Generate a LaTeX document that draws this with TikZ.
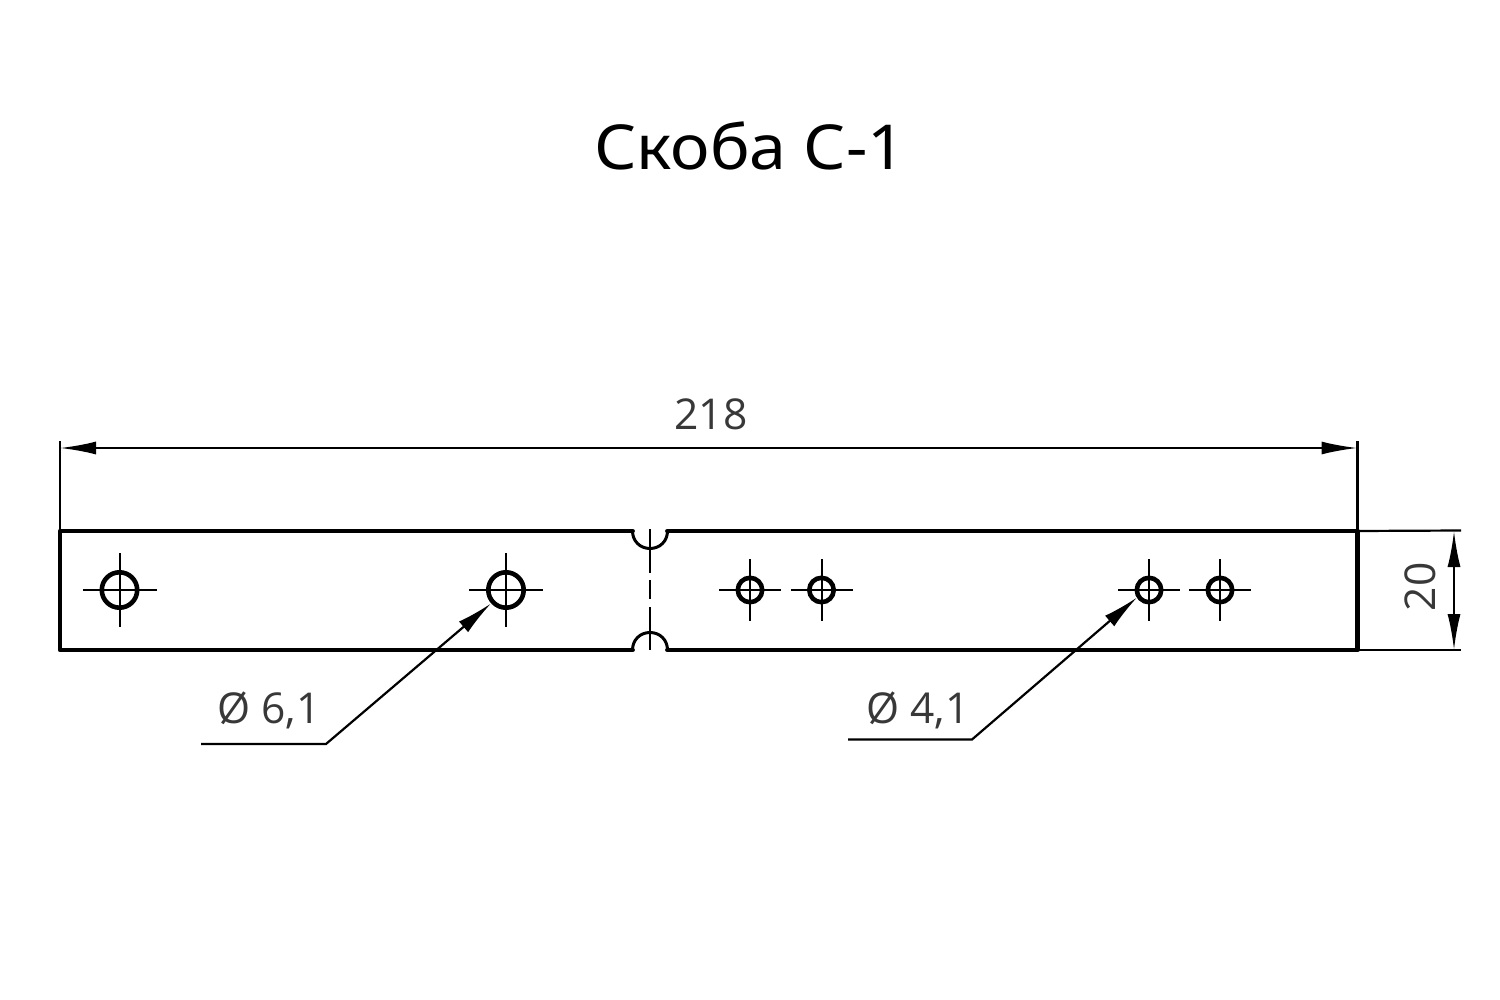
\documentclass[tikz,border=0pt]{standalone}
\usepackage{fontspec}
\setmainfont{Open Sans}
\newfontfamily\titlefont{Noto Sans}
\usetikzlibrary{arrows.meta,calc}
\tikzset{
  x=1pt,y=-1pt,
  contour/.style={line width=4.8pt,black,line cap=round,line join=round},
  notchline/.style={line width=3pt,black,line cap=round},
  thinline/.style={line width=2.2pt,black},
  holeline/.style={line width=4.6pt,black},
  centerline/.style={line width=2pt,black},
  dimarrow/.style={thinline,{Latex[length=36pt,width=13pt]}-{Latex[length=36pt,width=13pt]}},
  leaderarrow/.style={thinline,-{Latex[length=36pt,width=14pt]}},
  dimtext/.style={text=black!78,font=\fontsize{42.5}{42.5}\selectfont,inner sep=0pt},
}
\newcommand{\bighole}[1]{%
  \draw[centerline] ($(#1)+(-37,0)$) -- ($(#1)+(37,0)$);
  \draw[centerline] ($(#1)+(0,-37)$) -- ($(#1)+(0,37)$);
  \draw[holeline] (#1) circle (17.7pt);}
\newcommand{\smallhole}[1]{%
  \draw[centerline] ($(#1)+(-31,0)$) -- ($(#1)+(31,0)$);
  \draw[centerline] ($(#1)+(0,-31)$) -- ($(#1)+(0,31)$);
  \draw[holeline] (#1) circle (12.2pt);}
\begin{document}
\begin{tikzpicture}
\useasboundingbox (0,0) rectangle (1500,1000);
\fill[white] (0,0) rectangle (1500,1000);
\node[inner sep=0pt,font=\titlefont\fontsize{62}{62}\selectfont] (title) at (750,146) {\scalebox{1.07}[1]{Скоба С-1}};
% extension lines
\coordinate (tl) at (60,531); \coordinate (tr) at (1357.5,531);
\coordinate (bl) at (60,650); \coordinate (br) at (1357.5,650);
\draw[thinline] (60,441) -- (tl);
\draw[thinline] (1357.5,441) -- (tr);
\draw[thinline] (tr) -- (1461,530.5);
\draw[thinline] (br) -- (1461,650);
\draw[dimarrow] (60,448) -- (1357.5,448);
\draw[dimarrow] (1454,531) -- (1454,650);
\node[dimtext] (d218) at (711,414) {218};
\node[dimtext,rotate=90] (d20) at (1420,587) {20};
% contour
\draw[contour] (632.5,531) -- (tl) -- (bl) -- (632.5,650);
\draw[contour] (667.5,531) -- (tr) -- (br) -- (667.5,650);
\draw[notchline] (632.5,531) .. controls (632.5,541) and (640,548.5) .. (650,548.5) .. controls (660,548.5) and (667.5,541) .. (667.5,531);
\draw[notchline] (632.5,650) .. controls (632.5,640) and (640,632.5) .. (650,632.5) .. controls (660,632.5) and (667.5,640) .. (667.5,650);
% fold line
\draw[centerline] (650,529) -- (650,573);
\draw[centerline] (650,580) -- (650,599);
\draw[centerline] (650,607) -- (650,650);
% holes
\coordinate (h1) at (119.5,590); \coordinate (h2) at (506,590);
\coordinate (h3) at (750,590); \coordinate (h4) at (821.5,590);
\coordinate (h5) at (1149,590); \coordinate (h6) at (1220,590);
\bighole{h1}\bighole{h2}
\smallhole{h3}\smallhole{h4}\smallhole{h5}\smallhole{h6}
% leaders
\draw[leaderarrow] (201,744) -- (326,744) -- (491,603.5);
\draw[leaderarrow] (848,739.5) -- (972,739.5) -- (1137,597.5);
\node[dimtext] (d61) at (269,710) {Ø 6,1};
\node[dimtext] (d41) at (918,710) {Ø 4,1};
\end{tikzpicture}
\end{document}
